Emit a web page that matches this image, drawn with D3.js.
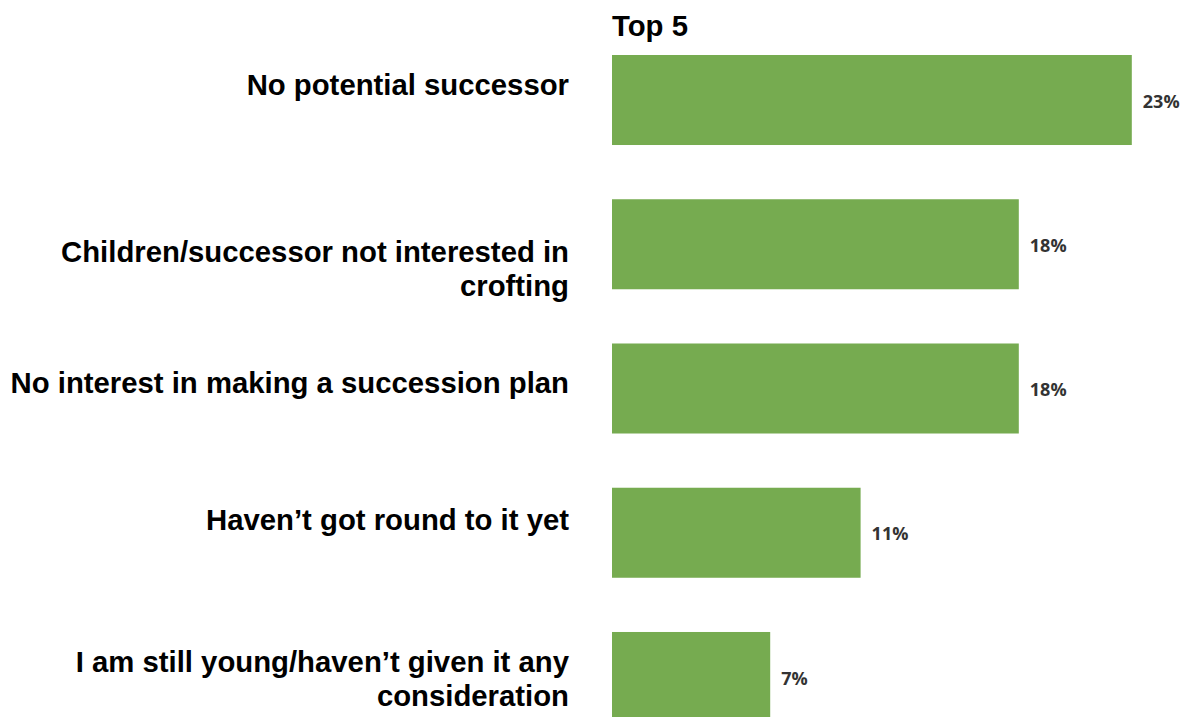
<!DOCTYPE html>
<html>
<head>
<meta charset="utf-8">
<script src="https://cdn.jsdelivr.net/npm/d3@7"></script>
<style>
  html, body { margin: 0; padding: 0; background: #fff; }
  svg { display: block; }
</style>
</head>
<body>
<svg id="chart" width="1188" height="717"></svg>
<script>
// Reasons for not having a succession plan (top 5), share of respondents
const title = "Top 5";
const reasons = [
  "No potential successor",
  "Children/successor not interested in crofting",
  "No interest in making a succession plan",
  "Haven\u2019t got round to it yet",
  "I am still young/haven\u2019t given it any consideration"
];
// Wrapped lines for the category labels
const reasonLines = [
  ["No potential successor"],
  ["Children/successor not interested in", "crofting"],
  ["No interest in making a succession plan"],
  ["Haven\u2019t got round to it yet"],
  ["I am still young/haven\u2019t given it any", "consideration"]
];
const shares = [23, 18, 18, 11, 7];

// Layout
const W = 1188, H = 717;
const barLeft = 612;
const labelRight = 569;
const lineHeight = 34;
const capHalf = 10.5;
// Per-label vertical nudges for the text blocks
const labelNudge = [-15.5, 24.5, -6.5, -13.5, 1.5];

const svg = d3.select("#chart");

const x = d3.scaleLinear().domain([0, 25]).range([barLeft, barLeft + 565]);
const y = d3.scaleBand()
  .domain(reasons)
  .range([55, 722])
  .paddingInner(0.376)
  .paddingOuter(0);

// Title above the bars
svg.append("text")
  .attr("x", barLeft)
  .attr("y", 36)
  .attr("font-family", "'Liberation Sans', Arial, sans-serif")
  .attr("font-weight", 700)
  .attr("font-size", 29.3)
  .attr("fill", "#000")
  .text(title);

const rows = svg.append("g").selectAll("g")
  .data(reasons.map((r, i) => ({ reason: r, lines: reasonLines[i], value: shares[i], i })))
  .join("g");

// Bars
rows.append("rect")
  .attr("x", x(0))
  .attr("y", d => y(d.reason))
  .attr("width", d => x(d.value) - x(0))
  .attr("height", y.bandwidth())
  .attr("fill", "#76ab50");

// Value labels
rows.append("text")
  .attr("x", d => x(d.value) + 11)
  .attr("y", d => y(d.reason) + y.bandwidth() / 2)
  .attr("dy", "0.42em")
  .attr("font-family", "'Open Sans', sans-serif")
  .attr("font-weight", 700)
  .attr("font-size", 18)
  .attr("fill", "#333")
  .text(d => d.value + "%");

// Category labels, right-aligned to the left of the bars
rows.append("text")
  .attr("text-anchor", "end")
  .attr("font-family", "'Liberation Sans', Arial, sans-serif")
  .attr("font-weight", 700)
  .attr("font-size", 29.3)
  .attr("fill", "#000")
  .each(function(d) {
    const cy = y(d.reason) + y.bandwidth() / 2;
    const first = cy - (d.lines.length - 1) * lineHeight / 2 + capHalf + labelNudge[d.i];
    d3.select(this).selectAll("tspan")
      .data(d.lines)
      .join("tspan")
      .attr("x", labelRight)
      .attr("y", (l, k) => first + k * lineHeight)
      .text(l => l);
  });
</script>
</body>
</html>
